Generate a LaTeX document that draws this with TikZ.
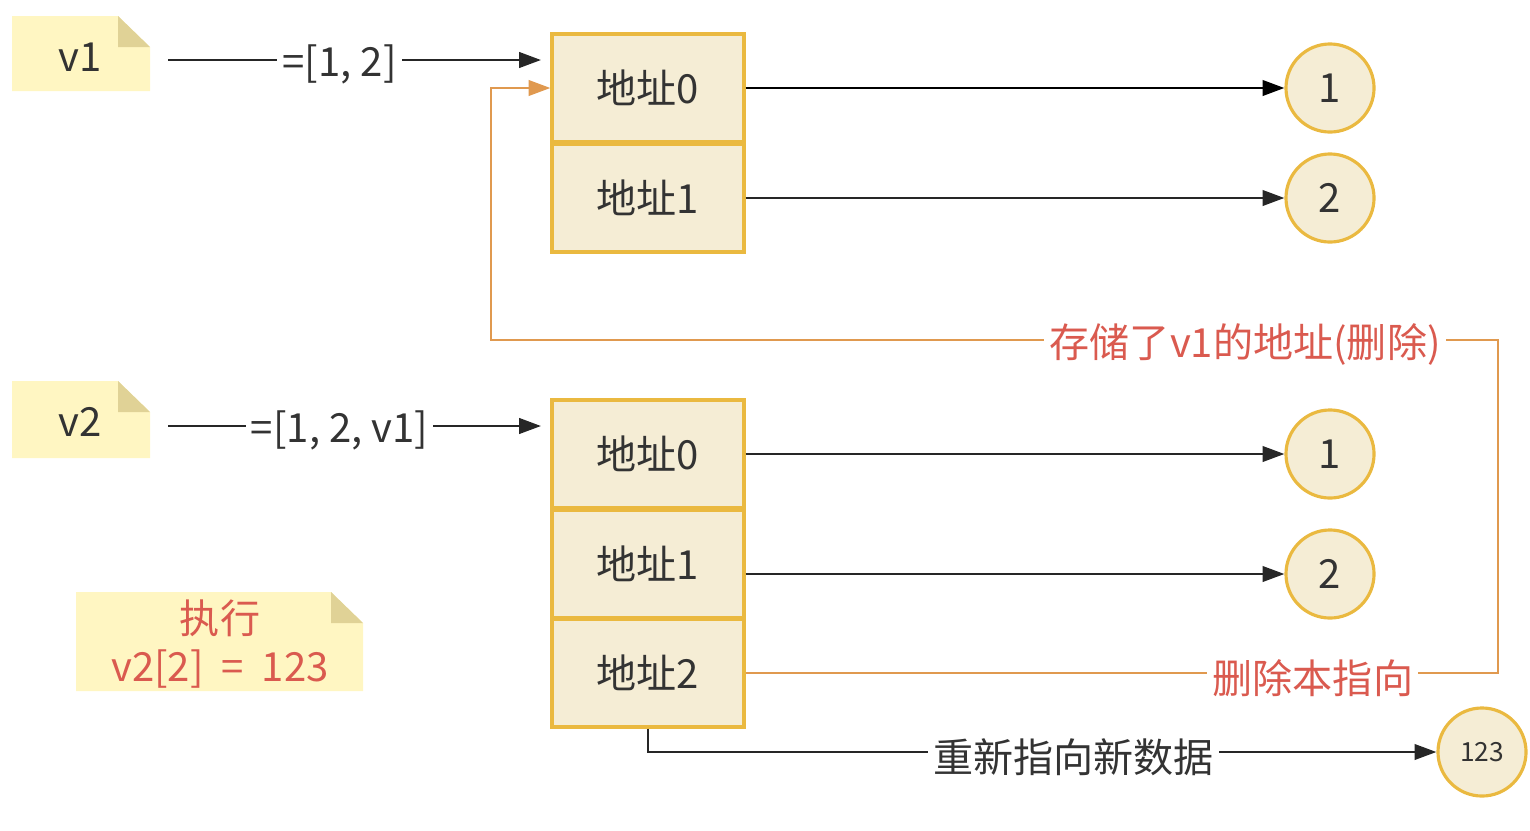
\documentclass[tikz,border=0pt]{standalone}
\usepackage{fontspec}
\setmainfont{Noto Sans CJK SC}
\usetikzlibrary{arrows.meta}

\definecolor{cellfill}{HTML}{F5EDD5}
\definecolor{cellline}{HTML}{EAB940}
\definecolor{notefill}{HTML}{FFF6C2}
\definecolor{notefold}{HTML}{E0D296}
\definecolor{linkorange}{HTML}{E0994F}
\definecolor{alertred}{HTML}{DA5A4F}
\definecolor{darktext}{HTML}{333333}

\begin{document}
\begin{tikzpicture}[x=0.01cm, y=-0.01cm,
    bigfont/.style={font=\fontsize{11.4}{13.7}\selectfont},
    cell/.style={draw=cellline, fill=cellfill, line width=0.9pt, minimum width=1.92cm,
        minimum height=1.08cm, inner sep=0pt, bigfont, text=darktext},
    value/.style={circle, draw=cellline, fill=cellfill, line width=0.9pt,
        minimum size=0.88cm, inner sep=0pt, bigfont, text=darktext},
    notetext/.style={bigfont, text=darktext, inner sep=0pt},
    edgelabel/.style={fill=white, inner sep=1.5pt, bigfont, text=darktext, yshift=-1.4pt},
    redlabel/.style={edgelabel, text=alertred},
    ptr/.style={draw=black!85, line width=0.7pt, -{Triangle[length=6.2pt,width=4.4pt]}},
    backptr/.style={draw=linkorange, line width=0.75pt, -{Triangle[length=6.2pt,width=4.4pt]}}
]
        \useasboundingbox (0,0) rectangle (1530,830);

        % Notes for the two variables
        \fill[notefill] (12,16) -- (118,16) -- (150,47) -- (150,91) -- (12,91) -- cycle;
        \fill[notefold] (118,16) -- (150,47) -- (118,47) -- cycle;
        \node[notetext] (v1) at (80,57) {v1};
        \fill[notefill] (12,381) -- (118,381) -- (150,412) -- (150,458) -- (12,458) -- cycle;
        \fill[notefold] (118,381) -- (150,412) -- (118,412) -- cycle;
        \node[notetext] (v2) at (80,422) {v2};

        % Note for the assignment
        \fill[notefill] (76,592) -- (331,592) -- (363,623) -- (363,691) -- (76,691) -- cycle;
        \fill[notefold] (331,592) -- (363,623) -- (331,623) -- cycle;
        \node[notetext, text=alertred, align=center] (run) at (220,644)
            {执行\\v2[2]\hspace{0.45em}=\hspace{0.45em}123};

        % Address cells of v1 and v2
        \node[cell] (a0) at (648,88) {地址0};
        \node[cell] (a1) at (648,198) {地址1};
        \node[cell] (b0) at (648,454) {地址0};
        \node[cell] (b1) at (648,564) {地址1};
        \node[cell] (b2) at (648,673) {地址2};

        % Values
        \node[value] (a0v) at (1330,88) {1};
        \node[value] (a1v) at (1330,198) {2};
        \node[value] (b0v) at (1330,454) {1};
        \node[value] (b1v) at (1330,574) {2};
        \node[value, font=\fontsize{7.5}{9}\selectfont] (newv) at (1482,752) {123};

        % Assignments
        \coordinate (v1tail) at (168,60);
        \coordinate (v1head) at (541,60);
        \coordinate (v2tail) at (168,426);
        \coordinate (v2head) at (541,426);
        \draw[ptr] (v1tail) -- node[pos=0.46, edgelabel] {=[1, 2]} (v1head);
        \draw[ptr] (v2tail) -- node[pos=0.46, edgelabel] {=[1, 2, v1]} (v2head);

        % Pointers to the values
        \draw[ptr, draw=black] (a0.east) -- (a0v);
        \draw[ptr] (a1.east) -- (a1v);
        \draw[ptr] (b0.east) -- (b0v);
        \draw[ptr] (b1.east |- b1v) -- (b1v);

        % Old pointer back to v1
        \coordinate (turnR) at (1498,340);
        \coordinate (turnL) at (491,340);
        \draw[backptr] (b2.east) -| node[pos=0.377, redlabel] {删除本指向} (turnR)
            -- node[pos=0.251, redlabel] {存储了v1的地址(删除)} (turnL) |- (a0.west);

        % New pointer
        \draw[ptr] (b2.south) |- node[pos=0.77, edgelabel] {重新指向新数据} (newv);
    \end{tikzpicture}
\end{document}
